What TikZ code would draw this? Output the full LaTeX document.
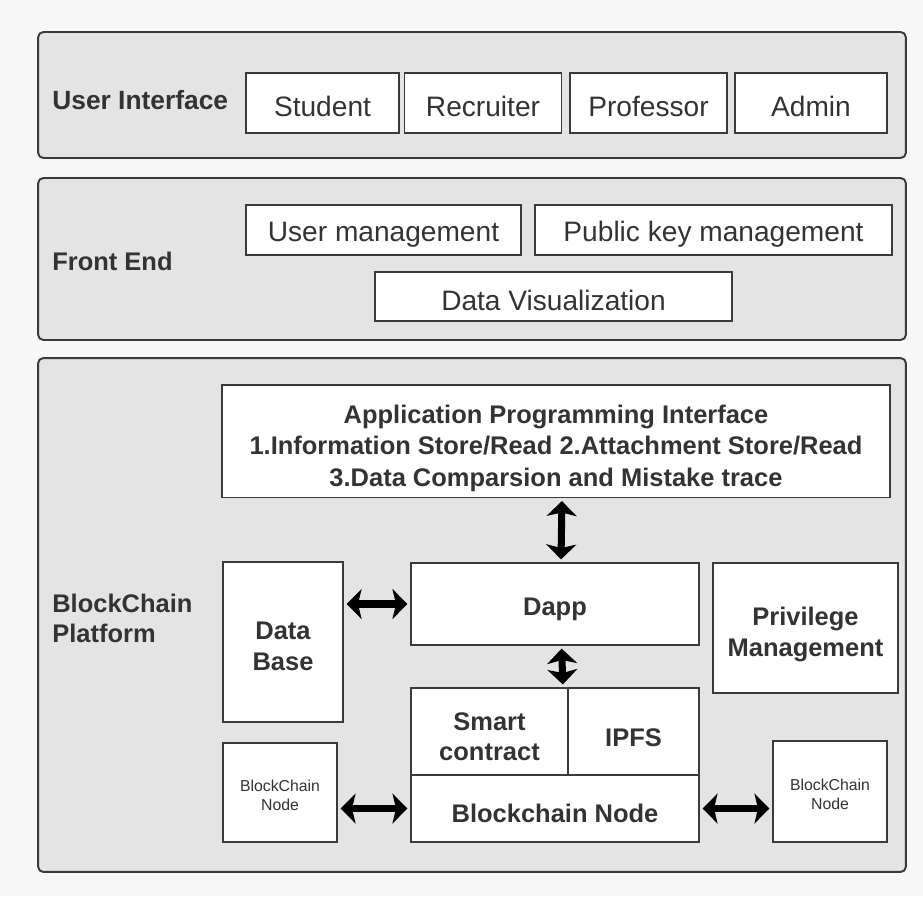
\documentclass[tikz,border=0pt]{standalone}
\usepackage{fontspec}
\setmainfont{Liberation Sans}
\usetikzlibrary{arrows.meta}
\definecolor{pagebg}{HTML}{F7F7F7}
\definecolor{panelbg}{HTML}{E4E4E4}
\definecolor{edge}{HTML}{3A3A3A}
\definecolor{ink}{HTML}{333333}
\newcommand{\padtop}[1]{\rule{0pt}{#1}}
\begin{document}
\begin{tikzpicture}[x=0.02cm, y=-0.02cm,
        layer/.style={draw=edge, fill=panelbg, line width=1.1pt, rounded corners=3pt},
        layername/.style={anchor=west, inner sep=0pt, text=ink, font=\fontsize{14.5}{17.5}\selectfont\bfseries, align=left},
        role/.style={draw=edge, fill=white, line width=1.1pt, text=ink, font=\fontsize{16}{19}\selectfont, minimum height=1.2cm,
            execute at begin node={\padtop{16pt}}},
        module/.style={draw=edge, fill=white, line width=1.1pt, text=ink, font=\fontsize{14.5}{17.5}\selectfont\bfseries, align=center},
        chainnode/.style={draw=edge, fill=white, line width=1.1pt, text=ink, font=\fontsize{9}{10.5}\selectfont, align=center},
        twoway/.style={line width=4pt, {Stealth[length=8.5pt,width=17pt,inset=2pt]}-{Stealth[length=8.5pt,width=17pt,inset=2pt]}, shorten <=1.5pt, shorten >=1.5pt}]
    \fill[pagebg] (0,0) rectangle (923,896);

    \node[layer, minimum width=17.36cm, minimum height=2.52cm] (uilayer) at (472,95) {};
    \node[layer, minimum width=17.36cm, minimum height=3.24cm] (felayer) at (472,259) {};
    \node[layer, minimum width=17.36cm, minimum height=10.28cm] (bclayer) at (472,615) {};

    \node[layername, font=\fontsize{15}{18}\selectfont\bfseries] (uiname) at (52,100) {User Interface};
    \node[role, minimum width=3.06cm] (student) at (322.5,103) {Student};
    \node[role, minimum width=3.14cm] (recruiter) at (483,103) {Recruiter};
    \node[role, minimum width=3.14cm] (professor) at (648.5,103) {Professor};
    \node[role, minimum width=3.04cm] (admin) at (811,103) {Admin};

    \node[layername] (fename) at (52,261) {Front End};
    \node[role, minimum width=5.5cm, minimum height=1cm] (usermgmt) at (383.5,230) {User management};
    \node[role, minimum width=7.14cm, minimum height=1cm] (keymgmt) at (713.5,230) {Public key management};
    \node[role, minimum width=7.14cm, minimum height=0.98cm] (datavis) at (553.5,296.5) {Data Visualization};

    \node[layername] (bcname) at (52,618.5) {BlockChain\\Platform};
    \node[module, font=\fontsize{14.5}{18}\selectfont\bfseries, minimum width=13.36cm, minimum height=2.2cm] (api) at (556,441)
        {\padtop{18.6pt}Application Programming Interface\\1.Information Store/Read 2.Attachment Store/Read\\3.Data Comparsion and Mistake trace};
    \node[module, minimum width=2.4cm, minimum height=3.2cm] (database) at (283,642) {\padtop{15pt}Data\\Base};
    \node[module, minimum width=5.76cm, minimum height=1.64cm] (dapp) at (555,604) {\padtop{16.2pt}Dapp};
    \node[module, minimum width=3.7cm, minimum height=2.6cm] (privilege) at (805.5,628) {\padtop{18pt}Privilege\\Management};
    \node[module, minimum width=3.14cm, minimum height=1.74cm] (smart) at (489.5,731.5) {\padtop{16.2pt}Smart\\contract};
    \node[module, minimum width=2.62cm, minimum height=1.74cm] (ipfs) at (633.5,731.5) {\padtop{17pt}IPFS};
    \node[module, minimum width=5.76cm, minimum height=1.34cm] (bcnode) at (555,808.5) {\padtop{16.2pt}Blockchain Node};
    \node[chainnode, minimum width=2.28cm, minimum height=1.98cm] (leftnode) at (280,792.5) {\padtop{10pt}BlockChain\\Node};
    \node[chainnode, minimum width=2.28cm, minimum height=2.02cm] (rightnode) at (830,791.5) {\padtop{10pt}BlockChain\\Node};

    \draw[twoway] ([xshift=3.4pt]api.south) -- ([xshift=3.4pt]dapp.north);
    \draw[twoway] ([xshift=3.7pt]dapp.south) -- ([xshift=-3.4pt]smart.north east);
    \draw[twoway] (database.east |- dapp.west) -- (dapp.west);
    \draw[twoway] (leftnode.east |- bcnode.west) -- (bcnode.west);
    \draw[twoway] (bcnode.east) -- (rightnode.west |- bcnode.east);
\end{tikzpicture}
\end{document}
